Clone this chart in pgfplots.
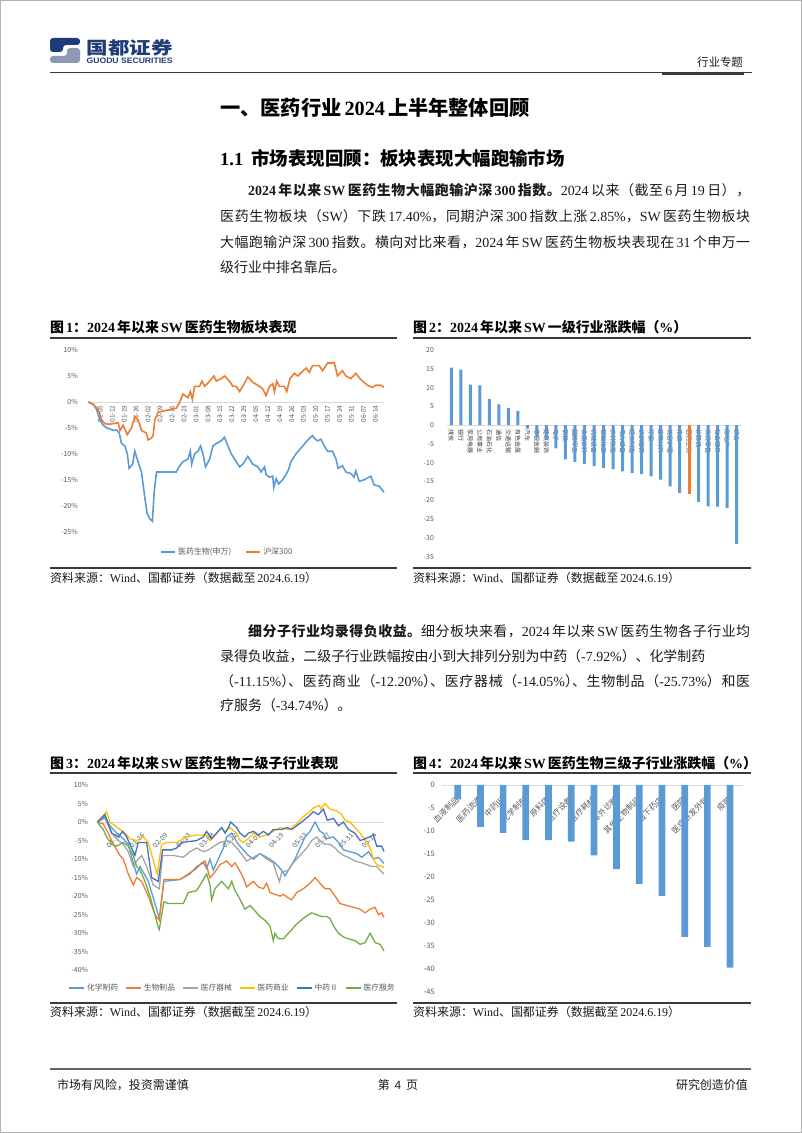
\documentclass[border=0pt]{standalone}
\usepackage{pgfplots}
\pgfplotsset{compat=1.18}
\usepackage{fontspec}
\setmainfont{Noto Sans CJK SC}
\newfontfamily\en{Liberation Serif}
\newfontfamily\ensans{Liberation Sans}
\definecolor{xlblue}{HTML}{5B9BD5}
\definecolor{xorange}{HTML}{ED7D31}
\definecolor{xgray}{HTML}{A5A5A5}
\definecolor{xyellow}{HTML}{FFC000}
\definecolor{xdblue}{HTML}{4472C4}
\definecolor{xgreen}{HTML}{70AD47}
\definecolor{ticktext}{HTML}{595959}
\definecolor{zline}{HTML}{D9D9D9}
\definecolor{rulec}{HTML}{3A3A3A}
\definecolor{logonavy}{HTML}{1F3B78}
\definecolor{logogray}{HTML}{8D99B3}
\definecolor{txt}{HTML}{1A1A1A}
\newcommand\q{\hskip 0.15em plus 0.05em minus 0.1em\relax}
\newcommand\cp[1]{\makebox[0.5em][l]{#1}}
\newcommand\body{\fontsize{14}{16}\selectfont}
% CJK characters get stretchable glue between them (for justified lines)
\newcount\cjkcc
\newcommand\setcjkrange[2]{\cjkcc=#1\relax
  \loop \XeTeXcharclass\cjkcc=7 \ifnum\cjkcc<#2\relax \advance\cjkcc by 1 \repeat}
\setcjkrange{"3000}{"303F}
\setcjkrange{"4E00}{"9FFF}
\setcjkrange{"FF01}{"FF5E}
\XeTeXinterchartokenstate=1
\XeTeXinterchartoks 7 7 = {\hskip 0pt plus 1.5pt minus 0.2pt\relax}
\pgfplotsset{
  pagechart/.style={
    scale only axis, anchor=south west, clip=false,
    axis x line*=middle, axis y line*=left,
    y axis line style={draw=none},
    x axis line style={draw=zline, line width=0.8bp},
    major tick length=0pt, tick style={draw=none},
    /pgf/number format/assume math mode=true,
    tick label style={text=ticktext},
    yticklabel style={font=\fontsize{7}{8}\selectfont},
    legend style={draw=none, fill=none, text=ticktext},
  },
}
\begin{document}
\begin{tikzpicture}
\useasboundingbox (0,0) rectangle (802bp,1133bp);
\begin{scope}[x=1bp, y=-1bp, yshift=1133bp]
\draw[gray!60, line width=1bp] (0.5,0.5) rectangle (801.5,1132.5);
% logo
\fill[logonavy, rounded corners=3bp] (50,52) -- (50,38) -- (80,38) -- (80,45) -- (63,45) -- (63,52) -- cycle;
\fill[logogray, rounded corners=3bp] (80,48) -- (80,63) -- (50,63) -- (50,56) -- (67,56) -- (67,48) -- cycle;
\node[anchor=west, inner sep=0, text=logonavy] at (86.5,47.5) {\resizebox{86bp}{15bp}{\bfseries 国都证券}};
\node[anchor=west, inner sep=0, text=logonavy] at (86.5,61) {\resizebox{86bp}{5.5bp}{\ensans\bfseries GUODU SECURITIES}};
\node[inner sep=0, text=txt] at (720,62) {\fontsize{11.5}{13}\selectfont 行业专题};
\draw[line width=0.8bp, rulec] (50,72.5) -- (752,72.5);
\draw[line width=2.2bp, rulec] (662,73.8) -- (744,73.8);
% headings
\node[anchor=west, inner sep=0, text=black] at (220,108) {\fontsize{20.3}{23}\selectfont\bfseries 一、医药行业\q{\en 2024}\q 上半年整体回顾};
\node[anchor=west, inner sep=0, text=black] at (220,158) {\fontsize{18.5}{21}\selectfont\bfseries {\en 1.1}\hspace{0.45em}市场表现回顾：板块表现大幅跑输市场};
% paragraph 1
\node[anchor=west, inner sep=0, text=txt] at (248,190) {\body\hbox to 502bp{\bfseries{\en 2024}\q 年以来\q{\en SW}\q 医药生物大幅跑输沪深\q{\en 300}\q 指数。\mdseries{\en 2024}\q 以来（截至\q{\en 6}\q 月\q{\en 19}\q 日），}};
\node[anchor=west, inner sep=0, text=txt] at (220,216) {\body\hbox to 530bp{医药生物板块（{\en SW}）下跌\q{\en 17.40\%}，同期沪深\q{\en 300}\q 指数上涨\q{\en 2.85\%}，{\en SW}\q 医药生物板块}};
\node[anchor=west, inner sep=0, text=txt] at (220,242) {\body\hbox to 530bp{大幅跑输沪深\q{\en 300}\q 指数。横向对比来看，{\en 2024}\q 年\q{\en SW}\q 医药生物板块表现在\q{\en 31}\q 个申万一}};
\node[anchor=west, inner sep=0, text=txt] at (220,267) {\body 级行业中排名靠后。};
% figure titles 1,2
\node[anchor=west, inner sep=0, text=black] at (50,327) {\fontsize{14}{16}\selectfont\bfseries 图\q{\en 1}：{\en 2024}\q 年以来\q{\en SW}\q 医药生物板块表现};
\node[anchor=west, inner sep=0, text=black] at (413,327) {\fontsize{14}{16}\selectfont\bfseries 图\q{\en 2}：{\en 2024}\q 年以来\q{\en SW}\q 一级行业涨跌幅（{\en\%}）};
\draw[line width=1.8bp, rulec] (50,338) -- (397,338);
\draw[line width=1.8bp, rulec] (413,338) -- (751,338);
\draw[line width=1.8bp, rulec] (50,568) -- (397,568);
\draw[line width=1.8bp, rulec] (413,568) -- (751,568);
\node[anchor=west, inner sep=0, text=txt] at (50,578) {\fontsize{12}{14}\selectfont 资料来源：{\en Wind}、国都证券（数据截至\q{\en 2024.6.19}）};
\node[anchor=west, inner sep=0, text=txt] at (413,578) {\fontsize{12}{14}\selectfont 资料来源：{\en Wind}、国都证券（数据截至\q{\en 2024.6.19}）};
% paragraph 2
\node[anchor=west, inner sep=0, text=txt] at (248,631) {\body\hbox to 502bp{\bfseries 细分子行业均录得负收益。\mdseries 细分板块来看，{\en 2024}\q 年以来\q{\en SW}\q 医药生物各子行业均}};
\node[anchor=west, inner sep=0, text=txt] at (220,656) {\body\hbox to 485bp{录得负收益，二级子行业跌幅按由小到大排列分别为中药（{\en -7.92\%}）、化学制药}};
\node[anchor=west, inner sep=0, text=txt] at (220,681) {\body\hbox to 530bp{（{\en -11.15\%}\cp{）}、医药商业（{\en -12.20\%}\cp{）}、医疗器械（{\en -14.05\%}\cp{）}、生物制品（{\en -25.73\%}）和医}};
\node[anchor=west, inner sep=0, text=txt] at (220,705) {\body 疗服务（{\en -34.74\%}）。};
% figure titles 3,4
\node[anchor=west, inner sep=0, text=black] at (50,763) {\fontsize{14}{16}\selectfont\bfseries 图\q{\en 3}：{\en 2024}\q 年以来\q{\en SW}\q 医药生物二级子行业表现};
\node[anchor=west, inner sep=0, text=black] at (413,763) {\fontsize{14}{16}\selectfont\bfseries 图\q{\en 4}：{\en 2024}\q 年以来\q{\en SW}\q 医药生物三级子行业涨跌幅（{\en\%}）};
\draw[line width=1.8bp, rulec] (50,773) -- (397,773);
\draw[line width=1.8bp, rulec] (413,773) -- (751,773);
\draw[line width=1.8bp, rulec] (50,1003) -- (397,1003);
\draw[line width=1.8bp, rulec] (413,1003) -- (751,1003);
\node[anchor=west, inner sep=0, text=txt] at (50,1012) {\fontsize{12}{14}\selectfont 资料来源：{\en Wind}、国都证券（数据截至\q{\en 2024.6.19}）};
\node[anchor=west, inner sep=0, text=txt] at (413,1012) {\fontsize{12}{14}\selectfont 资料来源：{\en Wind}、国都证券（数据截至\q{\en 2024.6.19}）};
% footer
\draw[line width=1.6bp, gray!80!black] (50,1069) -- (751,1069);
\node[anchor=west, inner sep=0, text=txt] at (57,1085) {\fontsize{12}{14}\selectfont 市场有风险，投资需谨慎};
\node[inner sep=0, text=txt] at (398,1085) {\fontsize{12}{14}\selectfont 第\hspace{0.4em}{\ensans 4}\hspace{0.4em}页};
\node[anchor=east, inner sep=0, text=txt] at (748,1085) {\fontsize{12}{14}\selectfont 研究创造价值};
\end{scope}

% ---------------- Chart 1 ----------------
\begin{axis}[pagechart,
  at={(88.3bp,601.3bp)}, width=295.7bp, height=181.7bp,
  xmin=0, xmax=173, ymin=-25, ymax=10,
  ytick={-25,-20,...,10}, yticklabel={\pgfmathprintnumber{\tick}\%},
  yticklabel style={xshift=-7bp},
  xtick={0,7,...,168},
  xticklabels={12-29,01-05,01-12,01-19,01-26,02-02,02-09,02-16,02-23,03-01,03-08,03-15,03-22,03-29,04-05,04-12,04-19,04-26,05-03,05-10,05-17,05-24,05-31,06-07,06-14},
  xticklabel style={yshift=-2.5bp, rotate=90, anchor=east, inner sep=1bp, font=\fontsize{6.5}{7}\selectfont},
  legend style={at={(0.47,-0.112)}, anchor=center, legend columns=2, font=\fontsize{8}{9}\selectfont, /tikz/every even column/.append style={column sep=12bp}},
  legend image code/.code={\draw[#1, line width=2bp] (0bp,0bp) -- (14bp,0bp);},
]
\addplot[xlblue, line width=1.6bp] coordinates {
(0,0) (3,-0.5) (4.9,-1.5) (6.8,-3.5) (8.7,-4.5) (10.7,-5) (12.6,-5.2) (14.6,-5.5) (16.5,-5.4) (18.1,-6) (19.4,-8) (21.4,-8.5) (22.8,-10) (23.9,-12.8) (25.9,-12) (27.2,-9.5) (28.6,-11) (30.1,-12.5) (31.1,-13.5) (33.1,-18.5) (34.4,-21.5) (36,-22.5) (37.5,-23) (38.5,-17.5) (39.9,-13.5) (51.5,-13.5) (53.1,-12.5) (55.4,-11.5) (58.3,-11) (59.7,-9.5) (60.5,-12) (62.2,-10) (64.2,-9.5) (65.7,-8.5) (67.1,-10) (68.6,-12.5) (71,-11) (72.9,-8.5) (74.9,-8) (77.8,-7.5) (79.7,-6.8) (81.1,-8) (83.6,-10) (86.5,-11.5) (88.5,-12.5) (90.4,-12) (93.3,-10.5) (96.2,-12) (99.2,-12.5) (101.1,-13.5) (103.1,-12.5) (104,-14) (106,-14.5) (107.9,-14.3) (108.5,-16.5) (109.9,-14.8) (111.4,-15.8) (113.7,-15) (115.7,-14) (117.2,-13) (118.6,-11.5) (121.5,-10) (125.4,-8.5) (129.3,-7) (131.2,-6.5) (132.2,-7) (134.2,-7.5) (136.1,-7.2) (138.1,-8.5) (140,-9.5) (142.9,-9.5) (144.9,-11) (146.2,-12.8) (148.7,-12.3) (150.7,-13.5) (153.6,-13.8) (155.5,-14.5) (156.5,-13.3) (158.5,-15.3) (161.4,-15) (165.3,-14.3) (167.2,-16) (170.1,-16.2) (173,-17.4)
};
\addplot[xorange, line width=1.6bp] coordinates {
(0,0) (3,-0.5) (5.8,-1.5) (7.8,-3.5) (9.7,-4.2) (12.6,-4.3) (17.5,-4) (18.5,-5.5) (20.4,-4.5) (22.8,-6.3) (25.3,-5) (27.2,-2.8) (29.2,-3.5) (31.1,-5.5) (34,-6) (35,-7.3) (36.9,-7) (37.9,-6.5) (38.9,-3.5) (40.8,-2) (51.5,-1.2) (53.5,0) (55.4,1.5) (58.3,0.8) (59.7,2) (60.9,0.5) (62.2,3) (65.1,3) (66.5,4) (68.1,3) (71,4) (73.5,5) (74.9,4) (77.8,4.5) (79.7,5) (82.6,4) (84.6,3) (86.5,3) (88.5,2) (90.4,3) (93.3,4.8) (96.2,3.8) (100.1,3) (102.1,2.5) (104,1.2) (106,3) (107.9,3.5) (108.9,2) (110.2,4) (111.8,3) (114.7,3) (116.1,2) (118,4.5) (120.6,5.5) (122.5,5) (127.4,6.5) (129.3,5.7) (131.2,7) (135.1,7) (137.1,6) (140,7.5) (142.9,7.5) (143.9,7.6) (145.8,5) (148.7,6) (150.7,5) (153.6,4.5) (156.5,5.5) (159.4,4.3) (163.3,3.2) (166.2,2.8) (168.2,3.2) (171.1,3.2) (173,2.85)
};
\legend{医药生物(申万),沪深300}
\end{axis}

% ---------------- Chart 2 ----------------
\begin{axis}[pagechart,
  at={(446.5bp,576.3bp)}, width=295bp, height=206.7bp,
  xmin=0.5, xmax=31.5, ymin=-35, ymax=20,
  ytick={-35,-30,...,20},
  yticklabel style={xshift=-9bp},
  xtick={1,...,31},
  xticklabels={煤炭,银行,家用电器,公用事业,石油石化,通信,交通运输,有色金属,汽车,非银金融,建筑装饰,电子,钢铁,国防军工,食品饮料,机械设备,基础化工,农林牧渔,电力设备,轻工制造,纺织服饰,环保,建筑材料,美容护理,传媒,医药生物,计算机,商贸零售,社会服务,房地产,综合},
  xticklabel style={yshift=-4bp, rotate=-90, anchor=west, inner sep=0.5bp, text=black!75, font=\fontsize{6}{6.5}\selectfont},
]
\addplot[ybar, bar width=3bp, bar shift=0pt, fill=xlblue, draw=none] coordinates {
(1,15.3) (2,14.8) (3,10.8) (4,10.6) (5,6.9) (6,5.5) (7,4.6) (8,3.8) (9,-0.9) (10,-3.0) (11,-4.0) (12,-6.2) (13,-9.1) (14,-9.8) (15,-10.4) (16,-10.9) (17,-11.4) (18,-11.7) (19,-12.3) (20,-12.7) (21,-13.0) (22,-13.6) (23,-14.5) (24,-16.3) (25,-18.0) (27,-20.4) (28,-21.6) (29,-21.7) (30,-22.1) (31,-31.6)
};
\addplot[ybar, bar width=3bp, bar shift=0pt, fill=xorange, draw=none] coordinates {(26,-18.3)};
\end{axis}

% ---------------- Chart 3 ----------------
\begin{axis}[pagechart,
  at={(97.3bp,162.7bp)}, width=286.7bp, height=185.3bp,
  xmin=0, xmax=173, ymin=-40, ymax=10,
  ytick={-40,-35,...,10}, yticklabel={\pgfmathprintnumber{\tick}\%},
  yticklabel style={xshift=-5.7bp},
  xtick={0,14,...,168},
  xticklabels={12-29,01-12,01-26,02-09,02-23,03-08,03-22,04-05,04-19,05-03,05-17,05-31,06-14},
  xticklabel style={yshift=-12bp, rotate=45, anchor=east, inner sep=0.5bp, font=\fontsize{6.8}{7}\selectfont},
  legend style={at={(0.4716,-0.094)}, anchor=center, legend columns=6, font=\fontsize{7.8}{9}\selectfont, /tikz/every even column/.append style={column sep=5bp}},
  legend image code/.code={\draw[#1, line width=1.8bp] (0bp,0bp) -- (15bp,0bp);},
]
\addplot[xlblue, line width=1.3bp] coordinates {
(0,0) (4.6,1.5) (7.6,-1) (11.7,-3) (15.7,-4.5) (18.7,-6) (21.7,-11) (23.7,-14) (25.8,-12) (30.8,-16) (34.8,-22) (37.4,-26) (40.2,-16) (49.9,-15.5) (55.9,-14) (60,-12) (64,-11) (66,-12.5) (68,-10) (70,-13) (74,-9) (76.1,-7) (78.1,-4) (81.1,-3) (85.1,-6) (88.1,-7.5) (91.1,-9) (94.2,-10) (98.2,-8.5) (102.2,-9.5) (104.2,-10) (107.2,-11) (109.3,-12) (111.3,-13) (113.3,-14.5) (115.3,-13) (119.3,-10) (122.3,-7) (125.4,-4) (128.4,-2.5) (131.4,0) (134.4,-2.5) (136.4,-3) (138.4,-4.5) (142.5,-4) (145.5,-5.5) (148.5,-7.5) (152.5,-8) (156.5,-8.5) (159.6,-9.5) (163.6,-8) (166.6,-10) (169.6,-9.5) (173,-11.15)
};
\addplot[xorange, line width=1.3bp] coordinates {
(0,0) (3.6,-0.5) (6.6,-3) (9.7,-6) (13.7,-9) (15.7,-10) (18.7,-14) (21.7,-17) (23.7,-15) (26.8,-16) (30.8,-20) (34.8,-25) (37.4,-26.5) (40.2,-15.5) (49.9,-15.5) (54.9,-14) (60,-12.5) (63,-11) (65,-10.5) (68,-15) (71,-13.5) (74,-11.5) (78.1,-10.5) (81.1,-12) (83.1,-11) (85.1,-12.5) (88.1,-15) (90.1,-17.5) (94.2,-16) (97.2,-17.5) (100.2,-18) (102.2,-16.5) (104.2,-19) (107.2,-19.5) (110.3,-20) (112.3,-19.5) (115.3,-20.5) (117.3,-21) (120.3,-19) (124.3,-18) (128.4,-16.5) (131.4,-15) (134.4,-16.5) (137.4,-18) (140.4,-18) (143.5,-20) (146.5,-22) (150.5,-22.5) (154.5,-23) (158.6,-23.5) (161.6,-24.5) (164.6,-23.5) (167.6,-23) (169.6,-25) (171.6,-24.5) (173,-25.73)
};
\addplot[xgray, line width=1.3bp] coordinates {
(0,0) (4.6,1) (8.7,-3) (12.7,-5) (15.7,-6) (18.7,-8) (21.7,-12) (23.7,-10.5) (26.8,-9) (29.8,-12) (33.8,-17) (37.4,-18) (39.4,-9) (45.9,-9) (51.9,-9.5) (55.9,-8) (60,-7) (64,-8) (67,-7.5) (74,-5.5) (78.1,-5) (81.1,-5.5) (85.1,-7.5) (90.1,-10.5) (94.2,-9.5) (98.2,-8.5) (102.2,-10) (106.2,-11) (108.2,-14) (109.9,-16) (111.3,-13.5) (115.3,-13) (118.3,-11) (121.3,-9.5) (124.3,-8) (126.4,-7) (129.4,-5) (132.4,-4) (134.4,-5) (137.4,-6) (140.4,-6) (143.5,-7) (145.5,-8) (148.5,-9) (151.5,-9.5) (155.5,-10.5) (159.6,-11) (162.6,-11.5) (165.6,-12) (168.6,-12) (170.6,-13) (173,-14.05)
};
\addplot[xyellow, line width=1.3bp] coordinates {
(0,0) (5.6,2.8) (7.6,0) (10.7,-1) (13.7,-2) (16.7,-3) (19.7,-4.5) (23.7,-5) (27.8,-4) (30.8,-5.5) (34.8,-12) (36.2,-14) (38.8,-6) (41.9,-5.5) (47.9,-5.5) (53.9,-4) (60,-3.5) (66,-3.5) (68,-5) (72,-3) (75,-1.5) (77.1,-2.5) (80.1,-1.5) (84.1,-3) (86.1,-5) (88.1,-5.5) (91.1,-4.5) (94.2,-3) (98.2,-4) (102.2,-3.5) (106.2,-2.5) (110.3,-1.5) (115.3,-2) (120.3,-0.5) (124.3,1.5) (127.4,2.5) (130.4,3.8) (134,4.5) (134.8,3.5) (137.4,5) (140.4,3.5) (144.5,3) (147.5,2) (149.5,0.5) (152.5,0) (155.5,-1.5) (158.6,-3) (161.6,-5) (164.6,-7) (166.6,-10) (168.6,-11.5) (171.6,-12) (173,-12.2)
};
\addplot[xdblue, line width=1.3bp] coordinates {
(0,0) (4.6,2) (8.7,-3) (12.7,-4) (15.3,-2.5) (17.7,-4) (19.7,-6) (22.7,-9) (24.7,-5.5) (29.8,-5.5) (32.8,-15) (36.8,-16) (39.4,-7.5) (44.9,-7.5) (47.9,-7) (50.9,-5.5) (60,-5) (64,-4) (66,-2.5) (69,-4.5) (72,-3) (75,-1.5) (77.1,-3) (79.1,-1.5) (80.5,0) (84.1,-1.5) (86.1,-3) (89.1,-4) (91.1,-3) (94.2,-2.5) (97.2,-3.5) (100.2,-2.5) (103.2,-3.5) (106.2,-2) (111.3,-2) (114.3,-1.5) (117.3,-2) (123.3,0) (127.4,1.5) (130.4,2.8) (133.4,2) (136.4,3.5) (138.8,0.5) (142.5,1) (145.5,-1) (148.5,0) (151.5,-2) (155.5,-3) (158.6,-5) (161.6,-4.5) (166.6,-3.5) (168.6,-6.5) (171.6,-6.5) (173,-7.92)
};
\addplot[xgreen, line width=1.3bp] coordinates {
(0,0) (3.6,-2) (5.6,-4) (8.7,-6) (11.7,-6.5) (15.7,-5.5) (18.7,-6.5) (21.7,-9) (23.7,-12) (25.8,-13) (28.8,-16) (31.8,-20) (34.8,-25) (36.8,-28.5) (37.4,-29) (40.2,-21.5) (42.9,-22) (51.9,-22) (54.9,-19) (60,-18.5) (64,-15.5) (66,-14) (68,-17) (69,-21) (71,-18) (75,-16) (77.1,-17) (79.1,-18) (81.1,-16) (83.1,-18.5) (85.1,-20) (89.1,-23.5) (92.2,-22.5) (95.2,-24) (98.2,-25.5) (101.2,-26.5) (104.2,-28) (106.2,-32) (107.2,-30) (109.3,-31.5) (112.3,-31.5) (115.3,-30) (117.3,-29) (120.3,-27.5) (124.3,-26) (127.4,-25) (129.4,-24.5) (132.4,-25) (135.4,-25.5) (138.4,-25.5) (140.4,-26) (142.5,-28) (145.5,-30) (148.5,-31) (151.5,-31.5) (155.5,-32) (158.6,-33) (161.6,-32.5) (164.6,-30) (167.6,-32.5) (170.6,-33) (173,-34.74)
};
\legend{化学制药,生物制品,医疗器械,医药商业,中药Ⅱ,医疗服务}
\end{axis}

% ---------------- Chart 4 ----------------
\begin{axis}[pagechart,
  at={(442.3bp,141bp)}, width=300.7bp, height=207bp,
  xmin=0.32, xmax=13.57, ymin=-45, ymax=0,
  ytick={-45,-40,...,0},
  yticklabel style={xshift=-4bp, font=\fontsize{7.5}{8}\selectfont},
  xtick={1,...,13},
  xticklabels={血液制品,医药流通,中药Ⅲ,化学制剂,原料药,医疗设备,医疗耗材,体外诊断,其他生物制品,线下药店,医院,医疗研发外包,疫苗},
  xticklabel style={yshift=-13bp, rotate=45, anchor=east, inner sep=0.5bp, font=\fontsize{8}{9}\selectfont},
]
\addplot[ybar, bar width=6.7bp, bar shift=0pt, fill=xlblue, draw=none] coordinates {
(1,-3.1) (2,-9.1) (3,-10.4) (4,-12.0) (5,-12.0) (6,-12.3) (7,-15.3) (8,-18.3) (9,-21.5) (10,-24.1) (11,-33.0) (12,-35.2) (13,-39.7)
};
\end{axis}
\end{tikzpicture}
\end{document}
